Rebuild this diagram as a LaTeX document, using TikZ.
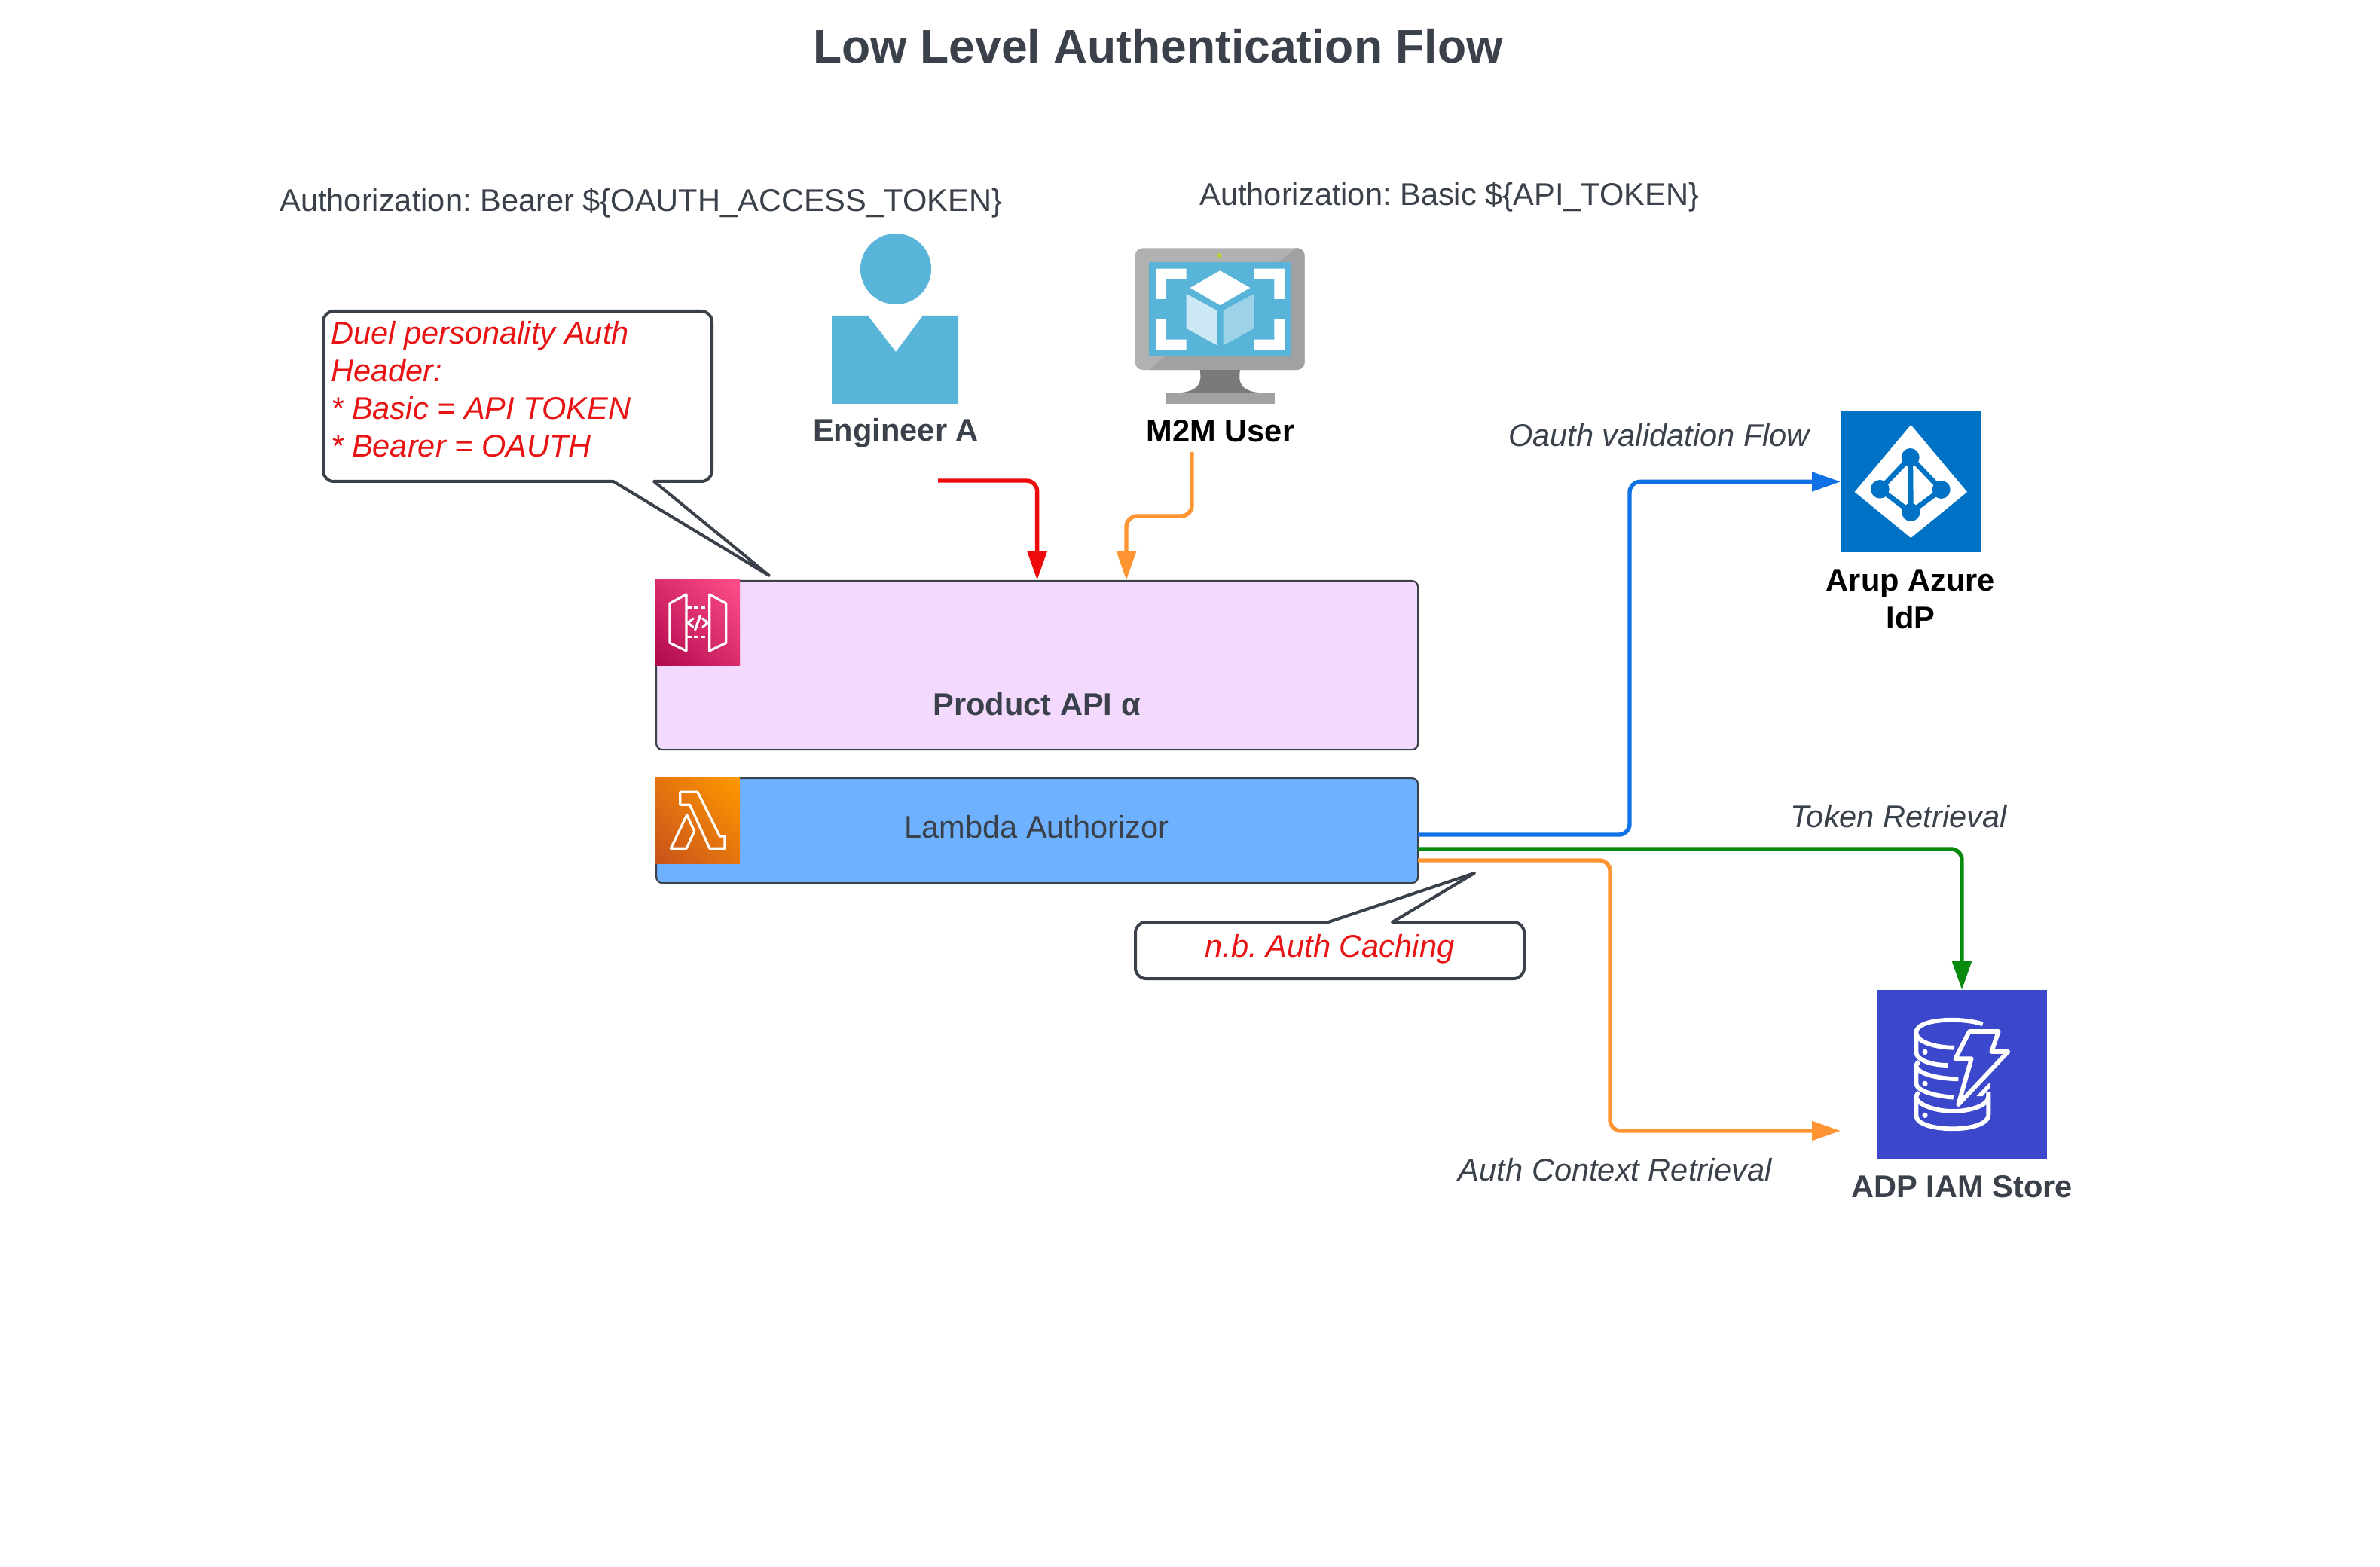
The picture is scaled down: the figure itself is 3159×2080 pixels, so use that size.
\documentclass[tikz,border=0pt]{standalone}
\usepackage{fontspec}
\setmainfont{Liberation Sans}
\frenchspacing
\usetikzlibrary{arrows.meta,shadings}
\definecolor{ink}{HTML}{3A414A}
\definecolor{alert}{HTML}{E81313}
\definecolor{azurec}{HTML}{59B4D9}
\definecolor{flowblue}{HTML}{1071E5}
\definecolor{flowgreen}{HTML}{088A0E}
\definecolor{floworange}{HTML}{FF9432}
\definecolor{flowred}{HTML}{EE0A0A}
\definecolor{apifill}{HTML}{F2D9FD}
\definecolor{lamfill}{HTML}{6DB1FF}
\definecolor{apid}{HTML}{B0084D}
\definecolor{apil}{HTML}{FF4F8B}
\definecolor{apim}{HTML}{D82C6C}
\definecolor{lamd}{HTML}{C8511B}
\definecolor{laml}{HTML}{FF9900}
\definecolor{lamm}{HTML}{E4750E}
\definecolor{monlight}{HTML}{B1B1B1}
\definecolor{mondark}{HTML}{A0A1A3}
\definecolor{monstand}{HTML}{7A7A7A}
\definecolor{mondot}{HTML}{B8D432}
\definecolor{cubel}{HTML}{CCE8F4}
\definecolor{cuber}{HTML}{9CD3E8}
\definecolor{azuresq}{HTML}{0072C6}
\definecolor{dynsq}{HTML}{3B48CC}
\newcommand{\bodysize}{\fontsize{20.8}{25}\selectfont}
\tikzset{
  canvas/.style={x=0.5pt,y=-0.5pt},
  zoomed/.style={x=0.16667pt,y=-0.16667pt},
  basefont/.style={font=\bodysize,text=ink,inner sep=0pt},
  label/.style={basefont},
  strong/.style={basefont,font=\bodysize\bfseries},
  strongblack/.style={strong,text=black,align=center},
  flowlabel/.style={basefont,font=\bodysize\itshape},
  redtext/.style={basefont,font=\bodysize\itshape,text=alert},
  service/.style={draw=ink,line width=1.1pt,rounded corners=4pt,inner sep=0pt,anchor=north west},
  flow/.style={line width=2.7pt,rounded corners=7pt,-{Triangle[length=19pt,width=12.5pt]}},
  balloon/.style={draw=ink,line width=2pt,fill=white,line join=round},
  iconline/.style={draw=white,line width=1.6pt,line join=round,line cap=round},
}
\begin{document}
\begin{tikzpicture}[canvas]
\useasboundingbox (0,0) rectangle (3159,2080);
\fill[white] (0,0) rectangle (3159,2080);

% title
\node[basefont,font=\fontsize{31.2}{36}\selectfont\bfseries] (title) at (1537,61) {Low Level Authentication Flow};

% header labels
\node[label,anchor=west] (bearer) at (371,269) {Authorization: Bearer \$\{OAUTH\_ACCESS\_TOKEN\}};
\node[label,anchor=west] (basic) at (1592,261) {Authorization: Basic \$\{API\_TOKEN\}};

% service boxes
\node[service,fill=apifill,minimum width=505.5pt,minimum height=112pt] (api) at (870,770) {};
\node[service,fill=lamfill,minimum width=505.5pt,minimum height=69.5pt] (lam) at (870,1032) {};
\node[strong] (apilabel) at (1376,935) {Product API α};
\node[label] (lamlabel) at (1376,1098) {Lambda Authorizor};

% API gateway icon
\shade[lower left=apid,upper right=apil,upper left=apim,lower right=apim] (869,770) rectangle (982,883);
\begin{scope}[shift={(840,740)},zoomed]
  \draw[iconline] (213,147) -- (147,183) -- (147,340) -- (213,372) -- cycle;
  \draw[iconline] (305,147) -- (371,183) -- (371,340) -- (305,372) -- cycle;
  \draw[iconline,line cap=butt,dash pattern=on 3pt off 1.6pt] (216,201) -- (303,201);
  \draw[iconline,line cap=butt,dash pattern=on 3pt off 1.6pt] (216,317) -- (303,317);
  \draw[iconline] (240,243) -- (219,260) -- (240,277);
  \draw[iconline] (278,243) -- (298,260) -- (278,277);
  \draw[iconline] (248,288) -- (268,232);
\end{scope}

% Lambda icon
\shade[lower left=lamd,upper right=laml,upper left=lamm,lower right=lamm] (869,1032) rectangle (982,1146);
\begin{scope}[shift={(840,1010)},zoomed]
  \draw[iconline] (188,124) -- (258,124) -- (346,300) -- (366,300) -- (366,349) -- (306,349) -- (227,175) -- (188,175) -- cycle;
  \draw[iconline] (215,215) -- (245,280) -- (213,349) -- (151,349) -- cycle;
\end{scope}

% Engineer
\fill[azurec] (1189,357) circle[radius=47];
\fill[azurec] (1104,419) -- (1152,419) -- (1189,467) -- (1225,419) -- (1272,419) -- (1272,536) -- (1104,536) -- cycle;
\node[strong] (engineer) at (1189,575) {Engineer A};

% M2M monitor
\begin{scope}[shift={(1480,310)},zoomed]
  \fill[monlight,rounded corners=5pt] (80,58) rectangle (755,543);
  \begin{scope}
    \clip (720,58) -- (770,58) -- (770,560) -- (115,560) -- cycle;
    \fill[mondark,rounded corners=5pt] (80,58) rectangle (755,543);
  \end{scope}
  \fill[azurec] (135,113) rectangle (702,490);
  \fill[mondot] (416,87) circle[radius=9];
  \fill[white] (162,140) -- (284,140) -- (284,180) -- (203,180) -- (203,261) -- (162,261) -- cycle;
  \fill[white] (675,140) -- (553,140) -- (553,180) -- (634,180) -- (634,261) -- (675,261) -- cycle;
  \fill[white] (162,462) -- (284,462) -- (284,422) -- (203,422) -- (203,341) -- (162,341) -- cycle;
  \fill[white] (675,462) -- (553,462) -- (553,422) -- (634,422) -- (634,341) -- (675,341) -- cycle;
  \fill[white] (418,148) -- (538,216) -- (418,285) -- (299,216) -- cycle;
  \fill[cubel] (284,240) -- (406,306) -- (406,445) -- (284,378) -- cycle;
  \fill[cuber] (553,240) -- (431,306) -- (431,445) -- (553,378) -- cycle;
  \fill[monstand] (338,543) -- (498,543) .. controls (490,590) and (495,630) .. (590,635) -- (245,635) .. controls (340,630) and (345,590) .. (338,543) -- cycle;
  \fill[mondark] (202,635) rectangle (636,678);
\end{scope}
\node[strongblack] (m2m) at (1620,572) {M2M User};

% Azure IdP icon
\node[fill=azuresq,inner sep=0pt,minimum width=93.5pt,minimum height=94pt,anchor=north west] (azure) at (2443,545) {};
\begin{scope}[shift={(2420,530)},zoomed]
  \fill[white] (349,102) -- (573,369) -- (349,552) -- (125,369) -- cycle;
  \draw[azuresq,line width=3.4pt] (226,358) -- (347,231) -- (470,360) -- (349,450) -- cycle (347,231) -- (349,450);
  \fill[azuresq] (347,231) circle[radius=36] (226,358) circle[radius=37] (470,360) circle[radius=36] (349,450) circle[radius=36];
\end{scope}
\node[strongblack] (azurelabel) at (2536,795) {Arup Azure\\IdP};

% DynamoDB icon
\node[fill=dynsq,inner sep=0pt,minimum width=112.6pt,minimum height=112.5pt,anchor=north west] (dyn) at (2491,1314) {};
\begin{scope}[shift={(2470,1300)},zoomed]
  \begin{scope}[draw=white,line width=2.9pt,line cap=butt,line join=round]
    \draw (485,178) .. controls (400,150) and (220,155) .. (220,212) .. controls (220,250) and (300,272) .. (372,272);
    \draw (220,212) -- (220,290) .. controls (220,320) and (280,342) .. (346,342);
    \draw (232,328) .. controls (224,332) and (220,338) .. (220,345) .. controls (225,375) and (300,395) .. (388,397);
    \draw (220,345) -- (220,415) .. controls (222,445) and (300,465) .. (368,470);
    \draw (232,450) .. controls (224,455) and (220,462) .. (220,470) -- (220,545) .. controls (225,580) and (300,595) .. (365,595) .. controls (440,595) and (508,575) .. (508,540) -- (508,448);
    \draw (220,470) .. controls (225,500) and (300,525) .. (365,525) .. controls (430,525) and (508,505) .. (508,465);
    \draw (432,207) -- (548,207) -- (520,288) -- (586,288) -- (388,498) -- (440,316) -- (376,316) -- cycle;
  \end{scope}
  \fill[white] (515,408) -- (515,430) -- (485,465) -- (460,465) -- cycle;
  \fill[white] (255,289) circle[radius=11] (255,415) circle[radius=11] (255,541) circle[radius=11];
\end{scope}
\node[strong] (dynlabel) at (2604,1575) {ADP IAM Store};

% flow labels
\node[flowlabel] (oauthlabel) at (2202,578) {Oauth validation Flow};
\node[flowlabel] (tokenlabel) at (2520,1084) {Token Retrieval};
\node[flowlabel] (ctxlabel) at (2144,1553) {Auth Context Retrieval};

% connector end points
\coordinate (redstart) at (1245,638);
\coordinate (orangestart) at (1582,600);
\coordinate (orangeend) at (1495,770);
\coordinate (bluestart) at (1882,1108);
\coordinate (bluebend) at (2163,1108);
\coordinate (greenstart) at (1882,1127);
\coordinate (ctxstart) at (1882,1142);
\coordinate (ctxend) at (2443,1501);

% connectors
\draw[flow,draw=flowred] (redstart) -| (api.north);
\draw[flow,draw=floworange] (orangestart) -- (1582,685) -- (1495,685) -- (orangeend);
\draw[flow,draw=flowblue] (bluestart) -- (bluebend) -- (bluebend |- azure.west) -- (azure.west);
\draw[flow,draw=flowgreen] (greenstart) -| (dyn.north);
\draw[flow,draw=floworange] (ctxstart) -- (2137,1142) -- (2137,1501) -- (ctxend);

% callouts
\draw[balloon] [rounded corners=7pt] (868,639) -- (945,639) -- (945,413) -- (429,413) -- (429,639) [sharp corners] -- (814,639) -- (1021,764) -- cycle;
\node[redtext,anchor=north west,align=left] (headernote) at (439,426) {Duel personality Auth\\Header:\\* Basic = API TOKEN\\* Bearer = OAUTH};
\draw[balloon] [rounded corners=7pt] (1848,1224) -- (2023,1224) -- (2023,1299) -- (1507,1299) -- (1507,1224) [sharp corners] -- (1763,1224) -- (1957,1159) -- cycle;
\node[redtext] (cachenote) at (1765,1260) {n.b. Auth Caching};
\end{tikzpicture}
\end{document}
